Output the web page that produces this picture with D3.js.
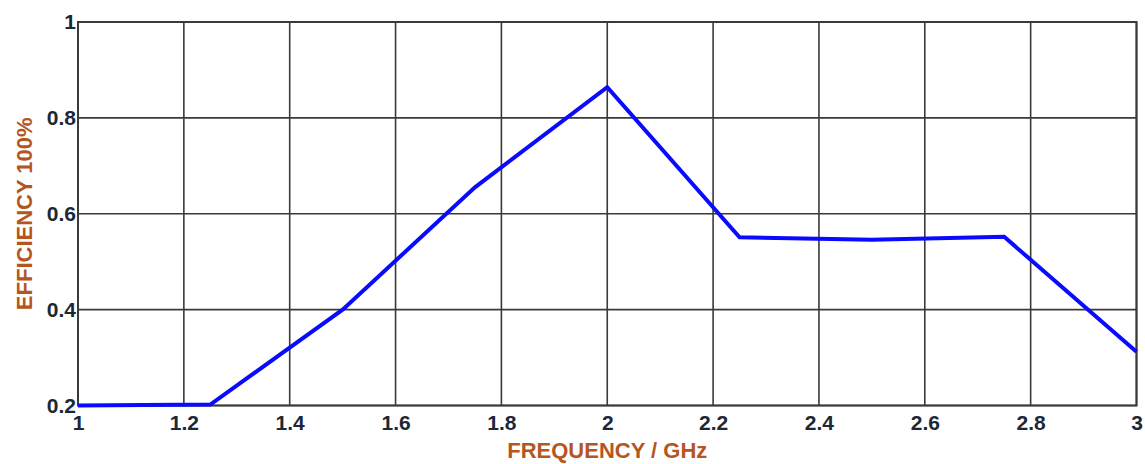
<!DOCTYPE html>
<html><head><meta charset="utf-8">
<script src="https://cdn.jsdelivr.net/npm/d3@7"></script>
<style>body{margin:0;background:#fff;}svg{display:block;}</style>
</head><body>
<svg id="c" width="1145" height="464"></svg>
<script>
const freq = [1, 1.25, 1.5, 1.75, 2, 2.25, 2.5, 2.75, 3];
const efficiency = [0.2, 0.202, 0.4, 0.655, 0.864, 0.551, 0.546, 0.552, 0.312];
const xTicks = [1, 1.2, 1.4, 1.6, 1.8, 2, 2.2, 2.4, 2.6, 2.8, 3];
const yTicks = [0.2, 0.4, 0.6, 0.8, 1];
const xTitle = "FREQUENCY / GHz";
const yTitle = "EFFICIENCY 100%";

const m = {l: 78, r: 8.5, t: 22, b: 58.5};
const W = 1145, H = 464;
const svg = d3.select("#c");
const x = d3.scaleLinear().domain([1, 3]).range([m.l, W - m.r]);
const y = d3.scaleLinear().domain([0.2, 1]).range([H - m.b, m.t]);
const font = "Arial, 'Liberation Sans', sans-serif";
const gridColor = "#3a3a3a";

// grid
svg.append("g").selectAll("line").data(xTicks).join("line")
  .attr("x1", d => x(d)).attr("x2", d => x(d)).attr("y1", y(0.2)).attr("y2", y(1))
  .attr("stroke", gridColor).attr("stroke-width", 1.6);
svg.append("g").selectAll("line").data(yTicks).join("line")
  .attr("x1", x(1)).attr("x2", x(3)).attr("y1", d => y(d)).attr("y2", d => y(d))
  .attr("stroke", gridColor).attr("stroke-width", 1.6);
svg.append("rect").attr("x", x(1)).attr("y", y(1)).attr("width", x(3) - x(1)).attr("height", y(0.2) - y(1))
  .attr("fill", "none").attr("stroke", gridColor).attr("stroke-width", 2);

// axes labels
const xAxis = d3.axisBottom(x).tickValues(xTicks).tickSize(0).tickPadding(10).tickFormat(d3.format("~g"));
const gx = svg.append("g").attr("transform", `translate(0,${y(0.2)})`).call(xAxis);
gx.select(".domain").remove();
gx.selectAll("text").attr("font-family", font).attr("font-weight", "bold").attr("font-size", 21).attr("fill", "#1c2836");

const yAxis = d3.axisLeft(y).tickValues(yTicks).tickSize(0).tickPadding(2).tickFormat(d3.format("~g"));
const gy = svg.append("g").attr("transform", `translate(${x(1)},0)`).call(yAxis);
gy.select(".domain").remove();
gy.selectAll("text").attr("font-family", font).attr("font-weight", "bold").attr("font-size", 21).attr("fill", "#1c2836");

// line
const line = d3.line().x((d, i) => x(freq[i])).y(d => y(d));
svg.append("path").datum(efficiency).attr("d", line)
  .attr("fill", "none").attr("stroke", "#0a0aff").attr("stroke-width", 4).attr("stroke-linejoin", "miter");

// titles
svg.append("text").attr("x", (x(1) + x(3)) / 2).attr("y", 458).attr("text-anchor", "middle")
  .attr("font-family", font).attr("font-weight", "bold").attr("font-size", 22).attr("fill", "#b5561f").text(xTitle);
svg.append("text").attr("transform", `translate(32,${(y(0.2) + y(1)) / 2}) rotate(-90)`).attr("text-anchor", "middle")
  .attr("font-family", font).attr("font-weight", "bold").attr("font-size", 22).attr("fill", "#b5561f").text(yTitle);
</script>
</body></html>
